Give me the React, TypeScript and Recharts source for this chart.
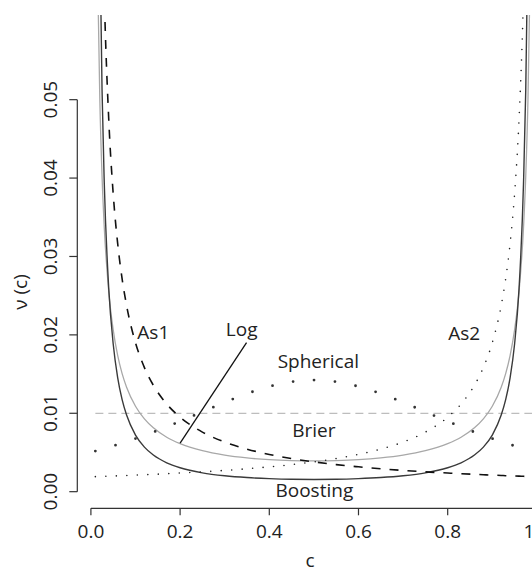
import React from 'react';
import { LineChart, Line, XAxis, YAxis, ReferenceLine, ReferenceDot } from 'recharts';

// ---- data ----
const cValues = [
  0.01, 0.015, 0.02, 0.025, 0.03, 0.04, 0.05, 0.06, 0.07, 0.08, 0.1, 0.12, 0.14, 0.17, 0.2,
  0.25, 0.3, 0.35, 0.4, 0.45, 0.5, 0.55, 0.6, 0.65, 0.7, 0.75, 0.8, 0.83, 0.86, 0.88, 0.9,
  0.92, 0.93, 0.94, 0.95, 0.96, 0.97, 0.975, 0.98, 0.985, 0.99,
];

const boostingValues = [
  null, null, 0.0711, 0.0512, 0.0393, 0.0259, 0.01884, 0.01456, 0.01174, 0.00977, 0.00722,
  0.00568, 0.00467, 0.00368, 0.00305, 0.0024, 0.00203, 0.0018, 0.00166, 0.00158, 0.00156,
  0.00158, 0.00166, 0.0018, 0.00203, 0.0024, 0.00305, 0.00368, 0.00467, 0.00568, 0.00722,
  0.00977, 0.01174, 0.01456, 0.01884, 0.0259, 0.0393, 0.0512, 0.0711, null, null,
];

const logValues = [
  null, 0.0663, 0.05, 0.0402, 0.03368, 0.02552, 0.02063, 0.01738, 0.01505, 0.01332, 0.01089,
  0.00928, 0.00814, 0.00695, 0.00613, 0.00523, 0.00467, 0.00431, 0.00408, 0.00396, 0.00392,
  0.00396, 0.00408, 0.00431, 0.00467, 0.00523, 0.00613, 0.00695, 0.00814, 0.00928, 0.01089,
  0.01332, 0.01505, 0.01738, 0.02063, 0.02552, 0.03368, 0.0402, 0.05, 0.0663, null,
];

const sphericalValues = [
  0.00518, 0.00526, 0.00534, 0.00542, 0.0055, 0.00567, 0.00584, 0.00602, 0.0062, 0.00639,
  0.00677, 0.00718, 0.0076, 0.00827, 0.00897, 0.01018, 0.01139, 0.0125, 0.01341, 0.01402,
  0.01423, 0.01402, 0.01341, 0.0125, 0.01139, 0.01018, 0.00897, 0.00827, 0.0076, 0.00718,
  0.00677, 0.00639, 0.0062, 0.00602, 0.00584, 0.00567, 0.0055, 0.00542, 0.00534, 0.00526,
  0.00518,
];

const as1Values = [
  null, null, null, 0.076, 0.0633, 0.0475, 0.038, 0.03167, 0.02714, 0.02375, 0.019, 0.01583,
  0.01357, 0.01118, 0.0095, 0.0076, 0.00633, 0.00543, 0.00475, 0.00422, 0.0038, 0.00345,
  0.00317, 0.00292, 0.00271, 0.00253, 0.00238, 0.00229, 0.00221, 0.00216, 0.00211, 0.00207,
  0.00204, 0.00202, 0.002, 0.00198, 0.00196, 0.00195, 0.00194, 0.00193, 0.00192,
];

const as2Values = [
  0.00192, 0.00193, 0.00194, 0.00195, 0.00196, 0.00198, 0.002, 0.00202, 0.00204, 0.00207,
  0.00211, 0.00216, 0.00221, 0.00229, 0.00238, 0.00253, 0.00271, 0.00292, 0.00317, 0.00345,
  0.0038, 0.00422, 0.00475, 0.00543, 0.00633, 0.0076, 0.0095, 0.01118, 0.01357, 0.01583,
  0.019, 0.02375, 0.02714, 0.03167, 0.038, 0.0475, 0.0633, 0.076, null, null, null,
];

const brierC = [0.01, 0.99];
const brierValues = [0.01, 0.01];

const xTicks = [0, 0.2, 0.4, 0.6, 0.8, 1.0];
const yTicks = [0, 0.01, 0.02, 0.03, 0.04, 0.05];

const labelTexts = ['As1', 'Log', 'Spherical', 'Brier', 'Boosting', 'As2'];
const labelC = [0.14, 0.338, 0.51, 0.5, 0.501, 0.837];
const labelV = [0.01948, 0.01986, 0.01578, 0.00702, -0.00068, 0.01935];

const logPointerC = [0.2, 0.349];
const logPointerV = [0.0062, 0.019];

// ---- chart setup ----
const X_DOMAIN: [number, number] = [-0.0305, 1.0294];
const Y_DOMAIN: [number, number] = [-0.00212, 0.0608];
const FONT = '"Open Sans", "DejaVu Sans", sans-serif';
const FS = 19;
const TEXT = '#222';
const AXIS = '#333';

const data = cValues.map((c, i) => ({
  c,
  boosting: boostingValues[i],
  log: logValues[i],
  spherical: sphericalValues[i],
  as1: as1Values[i],
  as2: as2Values[i],
}));
const brierData = brierC.map((c, i) => ({ c, brier: brierValues[i] }));

function XTick(props: any) {
  const { x, y, payload } = props;
  return (
    <text x={x} y={y + 22.7} textAnchor="middle" fontFamily={FONT} fontSize={FS} fill={TEXT}>
      {Number(payload.value).toFixed(1)}
    </text>
  );
}

function YTick(props: any) {
  const { x, y, payload } = props;
  const bx = x - 11.8;
  return (
    <text
      x={bx}
      y={y}
      transform={`rotate(-90 ${bx} ${y})`}
      textAnchor="middle"
      fontFamily={FONT}
      fontSize={FS}
      fill={TEXT}
    >
      {Number(payload.value).toFixed(2)}
    </text>
  );
}

function makeLabel(text: string) {
  return (p: any) => (
    <text x={p.cx} y={p.cy} textAnchor="middle" fontFamily={FONT} fontSize={FS} fill={TEXT}>
      {text}
    </text>
  );
}

export default function App() {
  return (
    <div style={{ position: 'absolute', left: 0, top: 0, width: 532, height: 572, overflow: 'hidden', background: '#fff' }}>
      <LineChart width={560} height={572} data={data} margin={{ top: 15, right: 10, left: 0, bottom: 0 }}>
        <XAxis
          type="number"
          dataKey="c"
          domain={X_DOMAIN}
          ticks={xTicks}
          interval={0}
          allowDataOverflow
          axisLine={false}
          tickLine={{ stroke: AXIS, strokeWidth: 1.2 }}
          tickSize={7}
          tickMargin={0}
          tick={XTick}
          height={63.7}
        />
        <YAxis
          type="number"
          domain={Y_DOMAIN}
          ticks={yTicks}
          interval={0}
          allowDataOverflow
          axisLine={false}
          tickLine={{ stroke: AXIS, strokeWidth: 1.2 }}
          tickSize={8}
          tickMargin={0}
          tick={YTick}
          width={77.3}
        />
        <ReferenceLine
          segment={[{ x: xTicks[0], y: Y_DOMAIN[0] }, { x: xTicks[xTicks.length - 1], y: Y_DOMAIN[0] }]}
          stroke={AXIS}
          strokeWidth={1.2}
          ifOverflow="visible"
        />
        <ReferenceLine
          segment={[{ x: X_DOMAIN[0], y: yTicks[0] }, { x: X_DOMAIN[0], y: yTicks[yTicks.length - 1] }]}
          stroke={AXIS}
          strokeWidth={1.2}
          ifOverflow="visible"
        />
        <Line
          data={brierData}
          dataKey="brier"
          type="linear"
          stroke="#bdbdbd"
          strokeWidth={1.3}
          strokeDasharray="8 5"
          dot={false}
          activeDot={false}
          isAnimationActive={false}
        />
        <Line
          dataKey="log"
          type="monotone"
          stroke="#a8a8a8"
          strokeWidth={1.3}
          dot={false}
          activeDot={false}
          isAnimationActive={false}
        />
        <Line
          dataKey="boosting"
          type="monotone"
          stroke="#3a3a3a"
          strokeWidth={1.4}
          dot={false}
          activeDot={false}
          isAnimationActive={false}
        />
        <Line
          dataKey="spherical"
          type="monotone"
          stroke="#333"
          strokeWidth={2.8}
          strokeLinecap="round"
          strokeDasharray="0 21"
          dot={false}
          activeDot={false}
          isAnimationActive={false}
        />
        <Line
          dataKey="as1"
          type="monotone"
          stroke="#111"
          strokeWidth={1.6}
          strokeDasharray="9 9"
          dot={false}
          activeDot={false}
          isAnimationActive={false}
        />
        <Line
          dataKey="as2"
          type="monotone"
          stroke="#222"
          strokeWidth={1.6}
          strokeLinecap="round"
          strokeDasharray="0 10.5"
          dot={false}
          activeDot={false}
          isAnimationActive={false}
        />
        <ReferenceLine
          segment={[{ x: logPointerC[0], y: logPointerV[0] }, { x: logPointerC[1], y: logPointerV[1] }]}
          stroke="#111"
          strokeWidth={1.3}
          ifOverflow="visible"
        />
        {labelTexts.map((t, i) => (
          <ReferenceDot
            key={t}
            x={labelC[i]}
            y={labelV[i]}
            r={0}
            ifOverflow="visible"
            shape={makeLabel(t)}
          />
        ))}
      </LineChart>
      <svg
        width={532}
        height={572}
        style={{ position: 'absolute', left: 0, top: 0, pointerEvents: 'none' }}
      >
        <text x={310} y={567} textAnchor="middle" fontFamily={FONT} fontSize={FS} fill={TEXT}>
          c
        </text>
        <text
          x={27}
          y={292}
          transform="rotate(-90 27 292)"
          textAnchor="middle"
          fontFamily={FONT}
          fontSize={FS}
          fill={TEXT}
        >
          ν (c)
        </text>
      </svg>
    </div>
  );
}
